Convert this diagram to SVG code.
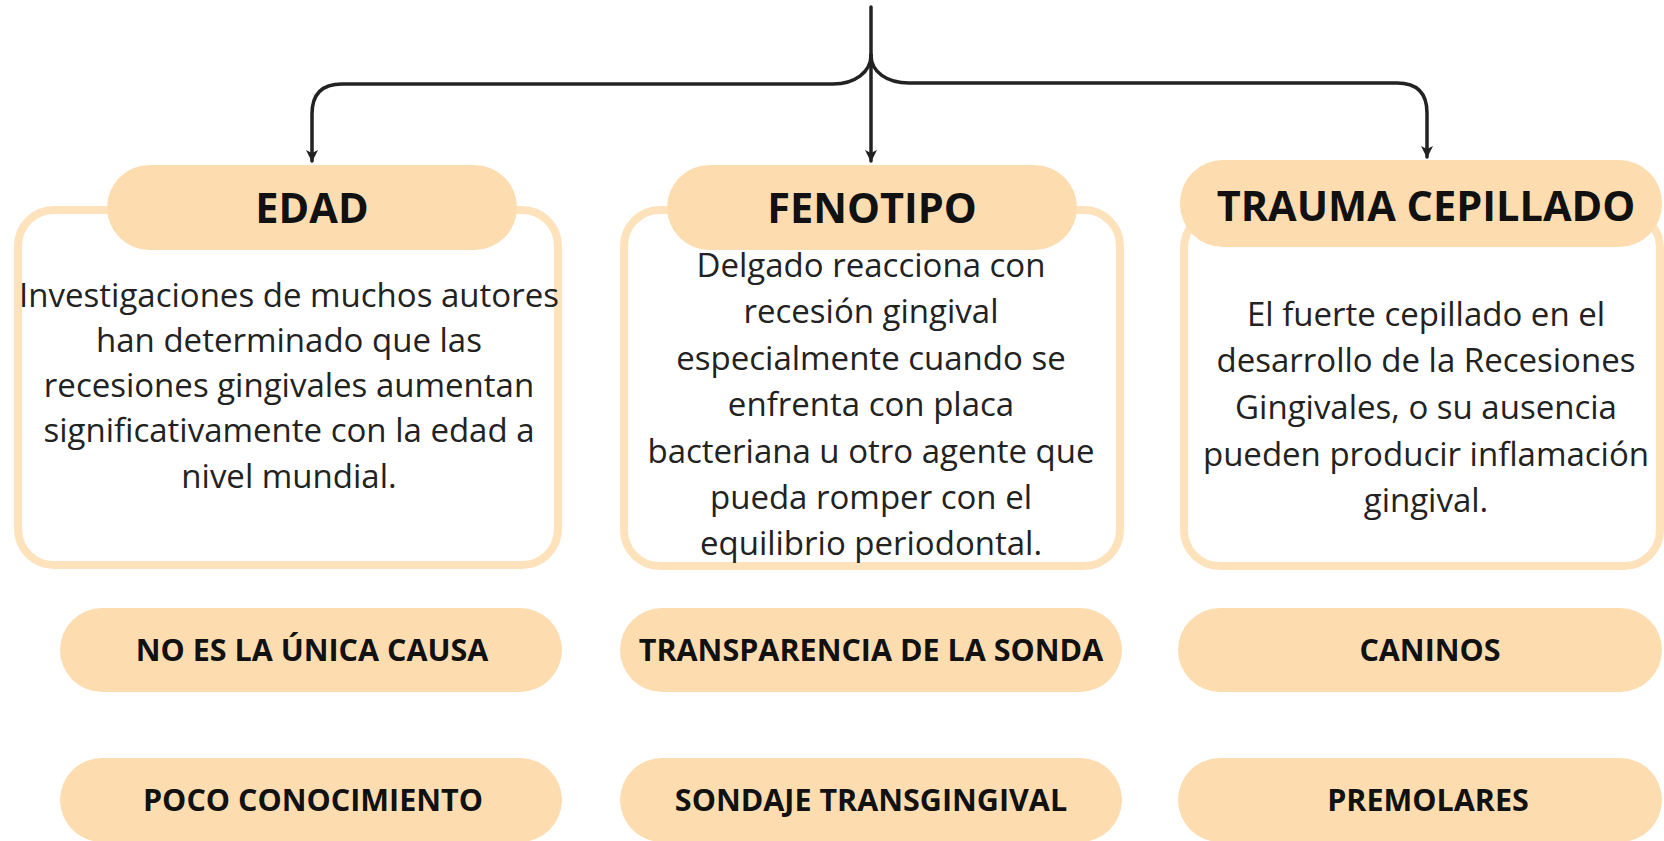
<svg xmlns="http://www.w3.org/2000/svg" width="1664" height="841" viewBox="0 0 1664 841">
<defs>
<style>
.box{fill:#ffffff;stroke:#FDE2BC;stroke-width:8}
.pill{fill:#FDDDB0}
.hd{font-family:"Open Sans","Noto Sans",sans-serif;font-weight:700;font-size:41.5px;fill:#111;text-anchor:middle}
.bd{font-family:"Open Sans","Noto Sans",sans-serif;font-weight:400;font-size:33px;fill:#222;text-anchor:middle}
.tg{font-family:"Open Sans","Noto Sans",sans-serif;font-weight:700;font-size:30.5px;fill:#111;text-anchor:middle}
.cn{fill:none;stroke:#222;stroke-width:3.5;stroke-linecap:round}
</style>
<marker id="ah" viewBox="-1 -7 14 14" refX="11" refY="0" markerWidth="14" markerHeight="14" markerUnits="userSpaceOnUse" orient="auto">
<path d="M0,-6 L12,0 L0,6 L3,0 Z" fill="#222"/>
</marker>
</defs>
<rect width="1664" height="841" fill="#ffffff"/>
<g id="connectors">
<path class="cn" d="M871,7 V161" marker-end="url(#ah)"/>
<path class="cn" d="M871,55 C871,72 855,84 833,84 H342 Q312,84 312,114 V161" marker-end="url(#ah)"/>
<path class="cn" d="M871,55 C871,72 887,83 909,83 H1397 Q1427,83 1427,113 V157" marker-end="url(#ah)"/>
</g>
<g id="edad">
<rect class="box" x="18" y="210" width="540" height="355" rx="36"/>
<rect class="pill" x="107" y="165" width="410" height="85" rx="42.5"/>
<text class="hd" x="312" y="223">EDAD</text>
<text class="bd" x="289" y="307">Investigaciones de muchos autores</text>
<text class="bd" x="289" y="352">han determinado que las</text>
<text class="bd" x="289" y="397">recesiones gingivales aumentan</text>
<text class="bd" x="289" y="442">significativamente con la edad a</text>
<text class="bd" x="289" y="488">nivel mundial.</text>
</g>
<g id="fenotipo">
<rect class="box" x="624" y="210" width="496" height="356" rx="36"/>
<rect class="pill" x="667" y="165" width="410" height="85" rx="42.5"/>
<text class="hd" x="872" y="223">FENOTIPO</text>
<text class="bd" x="871" y="277">Delgado reacciona con</text>
<text class="bd" x="871" y="323">recesión gingival</text>
<text class="bd" x="871" y="370">especialmente cuando se</text>
<text class="bd" x="871" y="416">enfrenta con placa</text>
<text class="bd" x="871" y="463">bacteriana u otro agente que</text>
<text class="bd" x="871" y="509">pueda romper con el</text>
<text class="bd" x="871" y="555">equilibrio periodontal.</text>
</g>
<g id="trauma">
<rect class="box" x="1184" y="212" width="476" height="354" rx="36"/>
<rect class="pill" x="1180" y="160" width="482" height="87" rx="43"/>
<text class="hd" x="1426" y="221">TRAUMA CEPILLADO</text>
<text class="bd" x="1426" y="326">El fuerte cepillado en el</text>
<text class="bd" x="1426" y="372">desarrollo de la Recesiones</text>
<text class="bd" x="1426" y="419">Gingivales, o su ausencia</text>
<text class="bd" x="1426" y="466">pueden producir inflamación</text>
<text class="bd" x="1426" y="512">gingival.</text>
</g>
<g id="tag-no-es">
<rect class="pill" x="60" y="608" width="502" height="84" rx="42"/>
<text class="tg" x="312" y="661">NO ES LA ÚNICA CAUSA</text>
</g>
<g id="tag-transparencia">
<rect class="pill" x="620" y="608" width="502" height="84" rx="42"/>
<text class="tg" x="871" y="661">TRANSPARENCIA DE LA SONDA</text>
</g>
<g id="tag-caninos">
<rect class="pill" x="1178" y="608" width="484" height="84" rx="42"/>
<text class="tg" x="1430" y="661">CANINOS</text>
</g>
<g id="tag-poco">
<rect class="pill" x="60" y="758" width="502" height="84" rx="42"/>
<text class="tg" x="313" y="811">POCO CONOCIMIENTO</text>
</g>
<g id="tag-sondaje">
<rect class="pill" x="620" y="758" width="502" height="84" rx="42"/>
<text class="tg" x="871" y="811">SONDAJE TRANSGINGIVAL</text>
</g>
<g id="tag-premolares">
<rect class="pill" x="1178" y="758" width="484" height="84" rx="42"/>
<text class="tg" x="1428" y="811">PREMOLARES</text>
</g>
</svg>
